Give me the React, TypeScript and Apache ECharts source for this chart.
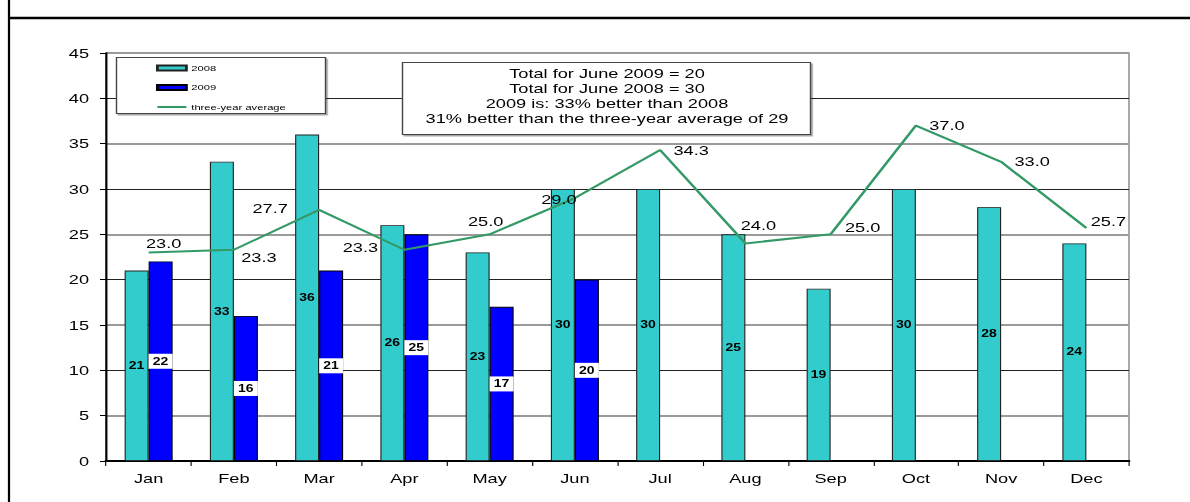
import { useEffect, useRef } from "react";
import * as echarts from "echarts";

const months = ["Jan", "Feb", "Mar", "Apr", "May", "Jun", "Jul", "Aug", "Sep", "Oct", "Nov", "Dec"];
const values2008 = [21, 33, 36, 26, 23, 30, 30, 25, 19, 30, 28, 24];
const values2009 = [22, 16, 21, 25, 17, 20, null, null, null, null, null, null];
const threeYearAverage = [23.0, 23.3, 27.7, 23.3, 25.0, 29.0, 34.3, 24.0, 25.0, 37.0, 33.0, 25.7];
const yMin = 0;
const yMax = 45;
const yStep = 5;
const infoLines = [
  "Total for June 2009 = 20",
  "Total for June 2008 = 30",
  "2009 is: 33% better than 2008",
  "31% better than the three-year average of 29",
];
// label placement (pixel offsets, page coordinates) for the average line labels
const avgLabelOffsets = [
  [15, -9], [25, 8], [-49, -1], [-44, -2], [-4, -13], [-16, 1],
  [31, 0], [13, -18], [32, -7], [31, 0], [31, 0], [22, -7],
];

const FONT = "Liberation Sans, Arial, Helvetica, sans-serif";
// the reference picture is stretched horizontally; the chart is drawn narrower and scaled
const K = 1.4;
const PAGE_W = 1190;
const PAGE_H = 502;
const sx = (v: number) => v / K;

export default function App() {
  const ref = useRef<HTMLDivElement>(null);
  useEffect(() => {
    if (!ref.current) return;
    const chart = echarts.init(ref.current, null, { renderer: "svg" });
    const option = {
      animation: false,
      backgroundColor: "#ffffff",
      textStyle: { fontFamily: FONT },
      grid: {
        left: sx(106),
        right: sx(61),
        top: 53,
        bottom: 41,
        show: true,
        borderColor: "#999999",
        borderWidth: 1.2,
        backgroundColor: "transparent",
      },
      legend: {
        show: true,
        orient: "vertical",
        left: sx(156),
        top: 64,
        itemWidth: sx(29),
        itemHeight: 5,
        itemGap: 11.5,
        padding: 0,
        z: 120,
        textStyle: { fontSize: 8, color: "#000", fontFamily: FONT, padding: [0, 0, 0, -1.5] },
        data: [
          { name: "2008", icon: "rect" },
          { name: "2009", icon: "rect" },
          { name: "three-year average", icon: "path://M0,0H30V3H0Z", itemStyle: { color: "#339966", borderWidth: 0 } },
        ],
      },
      xAxis: {
        type: "category",
        data: months,
        boundaryGap: true,
        axisLine: { show: true, lineStyle: { color: "#000", width: 2 } },
        axisTick: { show: true, interval: 0, length: 5, lineStyle: { color: "#000", width: 0.8 } },
        axisLabel: { fontSize: 13, color: "#000", margin: 11, fontFamily: FONT },
        splitLine: { show: false },
      },
      yAxis: [
        {
          type: "value",
          min: yMin,
          max: yMax,
          interval: yStep,
          axisLine: { show: true, lineStyle: { color: "#000", width: 1.5 } },
          axisTick: { show: true, length: sx(6), lineStyle: { color: "#000" } },
          axisLabel: { fontSize: 13, color: "#000", margin: sx(17), fontFamily: FONT },
          splitLine: { show: true, lineStyle: { color: ["#222222", "transparent"], width: 1 } },
        },
        {
          type: "value",
          min: yMin,
          max: yMax,
          interval: yStep,
          position: "left",
          axisLine: { show: false },
          axisTick: { show: false },
          axisLabel: { show: false },
          splitLine: { show: true, lineStyle: { color: ["transparent", "#9a9a9a"], width: 2 } },
        },
      ],
      series: [
        {
          name: "2008",
          type: "bar",
          data: values2008,
          barWidth: sx(24),
          barGap: "0%",
          itemStyle: { color: "#33CCCC", borderColor: "#222", borderWidth: 0.8 },
          label: {
            show: true,
            position: "inside",
            fontSize: 10,
            fontWeight: "bold",
            color: "#000",
            fontFamily: FONT,
          },
          z: 3,
        },
        {
          name: "2009",
          type: "bar",
          data: values2009,
          barWidth: sx(24),
          barGap: "0%",
          itemStyle: { color: "#0000FF", borderColor: "#000", borderWidth: 0.8 },
          label: {
            show: true,
            position: "inside",
            fontSize: 10,
            fontWeight: "bold",
            color: "#000",
            backgroundColor: "#ffffff",
            padding: [3, 3, 2, 3],
            fontFamily: FONT,
          },
          z: 3,
        },
        {
          name: "three-year average",
          type: "line",
          data: threeYearAverage.map((v, i) => ({
            value: v,
            label: { offset: [sx(avgLabelOffsets[i][0]), avgLabelOffsets[i][1]] },
          })),
          symbol: "circle",
          symbolSize: 0.1,
          showSymbol: true,
          itemStyle: { color: "#339966" },
          lineStyle: { color: "#339966", width: 2 },
          label: {
            show: true,
            position: "inside",
            fontSize: 13,
            color: "#000",
            fontFamily: FONT,
            formatter: (p: any) => Number(p.value).toFixed(1),
          },
          z: 5,
        },
      ],
      graphic: [
        {
          type: "line",
          shape: { x1: sx(9), y1: 0, x2: sx(9), y2: PAGE_H },
          style: { stroke: "#000", lineWidth: 1.6 },
          z: 200,
        },
        {
          type: "line",
          shape: { x1: sx(8), y1: 18, x2: sx(PAGE_W), y2: 18 },
          style: { stroke: "#000", lineWidth: 2.5 },
          z: 200,
        },
        {
          type: "rect",
          shape: { x: sx(116.5), y: 57.5, width: sx(209), height: 56 },
          style: { fill: "#fff", stroke: "#444", lineWidth: 1, shadowColor: "rgba(0,0,0,0.35)", shadowOffsetX: 1.2, shadowOffsetY: 1.5, shadowBlur: 0 },
          z: 100,
        },
        {
          type: "rect",
          shape: { x: sx(402.5), y: 62.5, width: sx(408), height: 72 },
          style: { fill: "#fff", stroke: "#444", lineWidth: 1, shadowColor: "rgba(0,0,0,0.35)", shadowOffsetX: 1.2, shadowOffsetY: 1.5, shadowBlur: 0 },
          z: 100,
        },
        ...infoLines.map((t, i) => ({
          type: "text",
          x: sx(607),
          y: 73 + i * 15,
          z: 101,
          style: {
            text: t,
            fill: "#000",
            fontSize: 13,
            fontFamily: FONT,
            textAlign: "center",
            textVerticalAlign: "middle",
          },
        })),
      ],
    };
    chart.setOption(option as any);
    return () => chart.dispose();
  }, []);
  return (
    <div style={{ position: "fixed", left: 0, top: 0, width: PAGE_W, height: PAGE_H, background: "#fff", overflow: "hidden" }}>
      <div
        ref={ref}
        style={{
          width: PAGE_W / K,
          height: PAGE_H,
          transform: `scaleX(${K})`,
          transformOrigin: "0 0",
        }}
      />
    </div>
  );
}
